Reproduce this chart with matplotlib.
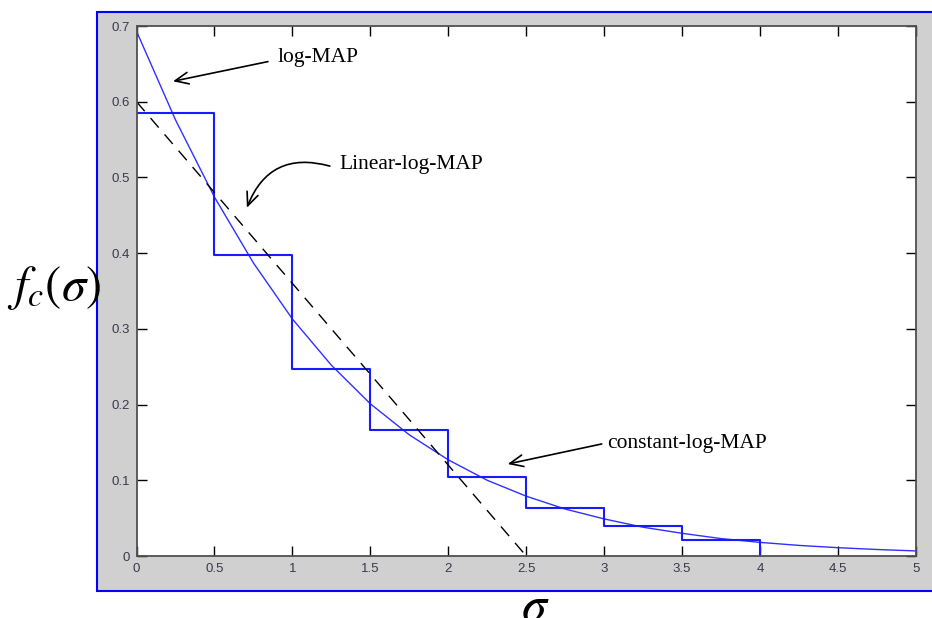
import numpy as np
import matplotlib
matplotlib.use('Agg')
import matplotlib.pyplot as plt
from matplotlib.patches import Rectangle

# log-MAP correction curve
sigma_curve = [0, 0.25, 0.5, 0.75, 1, 1.25, 1.5, 1.75, 2, 2.25, 2.5,
               2.75, 3, 3.25, 3.5, 3.75, 4, 4.25, 4.5, 4.75, 5]
fc_curve = [0.693, 0.576, 0.474, 0.387, 0.313, 0.252, 0.201, 0.160, 0.127, 0.100, 0.079,
            0.062, 0.049, 0.038, 0.030, 0.023, 0.018, 0.014, 0.011, 0.0086, 0.0067]

# constant-log-MAP table (step function)
step_edges = [0, 0.5, 1, 1.5, 2, 2.5, 3, 3.5, 4]
step_vals = [0.585, 0.398, 0.247, 0.167, 0.104, 0.064, 0.040, 0.0215]

# linear-log-MAP
lin_sigma = [0, 2.5]
lin_fc = [0.6, 0]

xticks = [0, 0.5, 1, 1.5, 2, 2.5, 3, 3.5, 4, 4.5, 5]
xtick_labels = ['0', '0.5', '1', '1.5', '2', '2.5', '3', '3.5', '4', '4.5', '5']
yticks = [0, 0.1, 0.2, 0.3, 0.4, 0.5, 0.6, 0.7]
ytick_labels = ['0', '0.1', '0.2', '0.3', '0.4', '0.5', '0.6', '0.7']

plt.rcParams['mathtext.fontset'] = 'stix'

fig = plt.figure(figsize=(9.32, 6.18), dpi=100)

# gray panel behind the axes, with blue edge
panel = Rectangle((0.1041, 0.0437), 0.92, 0.9369, transform=fig.transFigure,
                  facecolor='#d0d0d0', edgecolor='#0000ff', linewidth=1.5, zorder=-5)
fig.patches.append(panel)

ax = fig.add_axes([0.1465, 0.1003, 0.8363, 0.8576])
ax.set_zorder(2)
ax.set_facecolor('white')

ax.plot(sigma_curve, fc_curve, color='#3030ff', linewidth=1.0)

# step: build the outline from table values
sx, sy = [], []
for i, v in enumerate(step_vals):
    sx += [step_edges[i], step_edges[i + 1]]
    sy += [v, v]
sx.append(step_edges[-1])
sy.append(0)
ax.plot(sx, sy, color='#1a1aff', linewidth=1.5)

ax.plot(lin_sigma, lin_fc, color='black', linewidth=1.0, dashes=(9, 6.5))

ax.set_xlim(0, 5)
ax.set_ylim(0, 0.7)
ax.set_xticks(xticks)
ax.set_xticklabels(xtick_labels)
ax.set_yticks(yticks)
ax.set_yticklabels(ytick_labels)
ax.tick_params(direction='in', length=7, width=1, color='black',
               top=True, right=True, labelsize=9.5, labelcolor='#3a3a4a', pad=5)
for lab in ax.get_xticklabels() + ax.get_yticklabels():
    lab.set_fontfamily('Liberation Sans')
for s in ax.spines.values():
    s.set_color('#505050')
    s.set_linewidth(1.3)

serif = 'Liberation Serif'
arrow = dict(arrowstyle='->,head_length=0.8,head_width=0.35', color='black',
             linewidth=1.2, shrinkA=0, shrinkB=0, mutation_scale=12)

ax.annotate('', xy=(0.234, 0.627), xytext=(0.843, 0.653), arrowprops=arrow)
ax.text(0.907, 0.658, 'log-MAP', family=serif, fontsize=15.5, va='center', ha='left')

ax.annotate('', xy=(0.708, 0.460), xytext=(1.24, 0.515),
            arrowprops=dict(arrow, connectionstyle='arc3,rad=0.45'))
ax.text(1.304, 0.5165, 'Linear-log-MAP', family=serif, fontsize=15.5, va='center', ha='left')

ax.annotate('', xy=(2.381, 0.1215), xytext=(2.984, 0.148), arrowprops=arrow)
ax.text(3.016, 0.148, 'constant-log-MAP', family=serif, fontsize=15.5, va='center', ha='left')

fig.text(54 / 932, 1 - 288 / 618, r'$f_c(\sigma)$', fontsize=35, ha='center', va='center')
fig.text(535 / 932, 1 - 620 / 618, r'$\sigma$', fontsize=36, ha='center', va='baseline')

fig.savefig('out.png', dpi=100)
